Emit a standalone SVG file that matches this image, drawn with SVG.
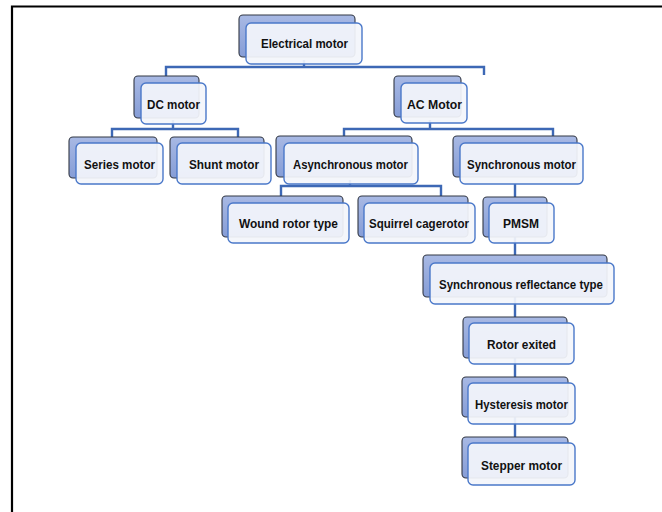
<svg xmlns="http://www.w3.org/2000/svg" width="662" height="512" viewBox="0 0 662 512">
<defs>
<linearGradient id="bg" x1="0" y1="0" x2="0" y2="1">
<stop offset="0" stop-color="#a8b9e4"/>
<stop offset="1" stop-color="#869dd6"/>
</linearGradient>
</defs>
<style>
.back{fill:url(#bg);stroke:#333844;stroke-width:1.1}
.front{fill:#f3f5fb;fill-opacity:0.93;stroke:#4a78c9;stroke-width:1.4}
.lbl{font-family:"Liberation Sans",Arial,sans-serif;font-weight:bold;font-size:13px;fill:#111}
.con{fill:none;stroke:#3d68b5;stroke-width:2.4}
.frame{fill:none;stroke:#000;stroke-width:2.2}
</style>
<rect width="662" height="512" fill="#fff"/>
<path class="frame" d="M12 512 V6.5 H662"/>
<g id="connectors">
<path class="con" d="M304 60 V67 M166 76 V67 H484 V75"/>
<path class="con" d="M173 120 V129 M112 137 V129 H238 V137"/>
<path class="con" d="M430 120 V129 M344 136 V129 H553 V136"/>
<path class="con" d="M350 180 V186 M281 196 V186 H441 V196"/>
<path class="con" d="M515 184 V443"/>
</g>
<g id="n-electrical">
<rect class="back" x="239" y="15" width="116" height="42" rx="4"/>
<rect class="front" x="246" y="23" width="116" height="41" rx="5"/>
<text class="lbl" x="261" y="47.5" textLength="87" lengthAdjust="spacingAndGlyphs">Electrical motor</text>
</g>
<g id="n-dc">
<rect class="back" x="134" y="76" width="65" height="42" rx="4"/>
<rect class="front" x="141" y="83" width="65" height="41" rx="5"/>
<text class="lbl" x="147" y="108.5" textLength="53" lengthAdjust="spacingAndGlyphs">DC motor</text>
</g>
<g id="n-ac">
<rect class="back" x="394" y="76" width="67" height="41" rx="4"/>
<rect class="front" x="401" y="83" width="66" height="40" rx="5"/>
<text class="lbl" x="407" y="108.5" textLength="55" lengthAdjust="spacingAndGlyphs">AC Motor</text>
</g>
<g id="n-series">
<rect class="back" x="69" y="137" width="88" height="41" rx="4"/>
<rect class="front" x="76" y="143" width="87" height="41" rx="5"/>
<text class="lbl" x="84" y="168.5" textLength="71" lengthAdjust="spacingAndGlyphs">Series motor</text>
</g>
<g id="n-shunt">
<rect class="back" x="170" y="137" width="94" height="41" rx="4"/>
<rect class="front" x="177" y="143" width="94" height="41" rx="5"/>
<text class="lbl" x="189" y="168.5" textLength="70" lengthAdjust="spacingAndGlyphs">Shunt motor</text>
</g>
<g id="n-async">
<rect class="back" x="276" y="136" width="136" height="41" rx="4"/>
<rect class="front" x="284" y="143" width="134" height="41" rx="5"/>
<text class="lbl" x="293" y="168.5" textLength="115" lengthAdjust="spacingAndGlyphs">Asynchronous motor</text>
</g>
<g id="n-sync">
<rect class="back" x="453" y="136" width="124" height="41" rx="4"/>
<rect class="front" x="460" y="143" width="123" height="41" rx="5"/>
<text class="lbl" x="467" y="168.5" textLength="109" lengthAdjust="spacingAndGlyphs">Synchronous motor</text>
</g>
<g id="n-wound">
<rect class="back" x="222" y="196" width="121" height="41" rx="4"/>
<rect class="front" x="228" y="203" width="121" height="40" rx="5"/>
<text class="lbl" x="239" y="227.5" textLength="99" lengthAdjust="spacingAndGlyphs">Wound rotor type</text>
</g>
<g id="n-squirrel">
<rect class="back" x="358" y="196" width="110" height="41" rx="4"/>
<rect class="front" x="364" y="203" width="111" height="40" rx="5"/>
<text class="lbl" x="369" y="227.5" textLength="100" lengthAdjust="spacingAndGlyphs">Squirrel cagerotor</text>
</g>
<g id="n-pmsm">
<rect class="back" x="483" y="197" width="64" height="40" rx="4"/>
<rect class="front" x="489" y="203" width="65" height="40" rx="5"/>
<text class="lbl" x="503" y="227.5" textLength="36" lengthAdjust="spacingAndGlyphs">PMSM</text>
</g>
<g id="n-reluct">
<rect class="back" x="423" y="255" width="184" height="42" rx="4"/>
<rect class="front" x="430" y="263" width="184" height="41" rx="5"/>
<text class="lbl" x="439" y="288.5" textLength="164" lengthAdjust="spacingAndGlyphs">Synchronous reflectance type</text>
</g>
<g id="n-rotor">
<rect class="back" x="463" y="317" width="104" height="41" rx="4"/>
<rect class="front" x="469" y="323" width="105" height="41" rx="5"/>
<text class="lbl" x="487" y="348.5" textLength="69" lengthAdjust="spacingAndGlyphs">Rotor exited</text>
</g>
<g id="n-hyst">
<rect class="back" x="462" y="377" width="106" height="40" rx="4"/>
<rect class="front" x="468" y="383" width="107" height="41" rx="5"/>
<text class="lbl" x="475" y="408.5" textLength="93" lengthAdjust="spacingAndGlyphs">Hysteresis motor</text>
</g>
<g id="n-stepper">
<rect class="back" x="462" y="437" width="106" height="41" rx="4"/>
<rect class="front" x="468" y="443" width="107" height="42" rx="5"/>
<text class="lbl" x="481" y="469.5" textLength="81" lengthAdjust="spacingAndGlyphs">Stepper motor</text>
</g>
</svg>
